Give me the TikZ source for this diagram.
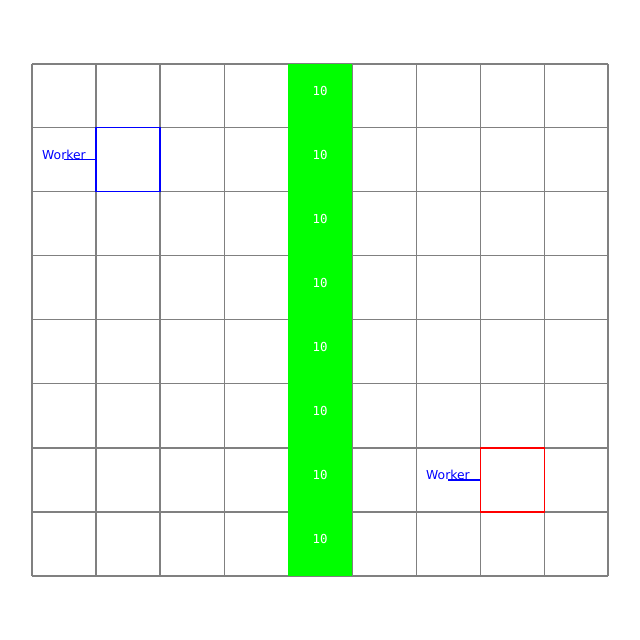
\documentclass[tikz,border=0pt]{standalone}
\usepackage{fontspec}
\setmainfont{DejaVu Sans}
\newfontfamily\cellfont{DejaVu Sans Mono}
\usepackage{tikz}
\usetikzlibrary{positioning}

\begin{document}
\begin{tikzpicture}[
  gridline/.style={draw=gray, line width=0.45pt},
  cellval/.style={anchor=base, inner sep=0pt, text=white, font=\cellfont\fontsize{5.5}{6}\selectfont},
  workerbox/.style={draw, line width=0.45pt, minimum size=1cm, inner sep=0pt},
  workerlbl/.style={anchor=base, inner sep=0pt, text=blue, font=\fontsize{5.5}{6}\selectfont},
  link/.style={draw=blue, line width=0.45pt}
]
\useasboundingbox (0,0) rectangle (10,10);

% Grid
\draw[gridline, shift={(0.5,0)}] (0,1) grid (9,9);

% Column
\fill[green] (4.5,1) rectangle (5.5,9);
\node[cellval] (v1) at (5, 8.5) {10};
\node[cellval] (v2) at (5, 7.5) {10};
\node[cellval] (v3) at (5, 6.5) {10};
\node[cellval] (v4) at (5, 5.5) {10};
\node[cellval] (v5) at (5, 4.5) {10};
\node[cellval] (v6) at (5, 3.5) {10};
\node[cellval] (v7) at (5, 2.5) {10};
\node[cellval] (v8) at (5, 1.5) {10};

% Workers
\node[workerbox, draw=blue] (w1) at (2, 7.5) {};
\node[workerlbl] (w1lbl) at (1, 7.5) {Worker};
\node[workerbox, draw=red] (w2) at (8, 2.5) {};
\node[workerlbl] (w2lbl) at (7, 2.5) {Worker};

% Links
\draw[link] (w1lbl.base) -- (w1.west);
\draw[link] (w2lbl.base) -- (w2.west);

\end{tikzpicture}
\end{document}
